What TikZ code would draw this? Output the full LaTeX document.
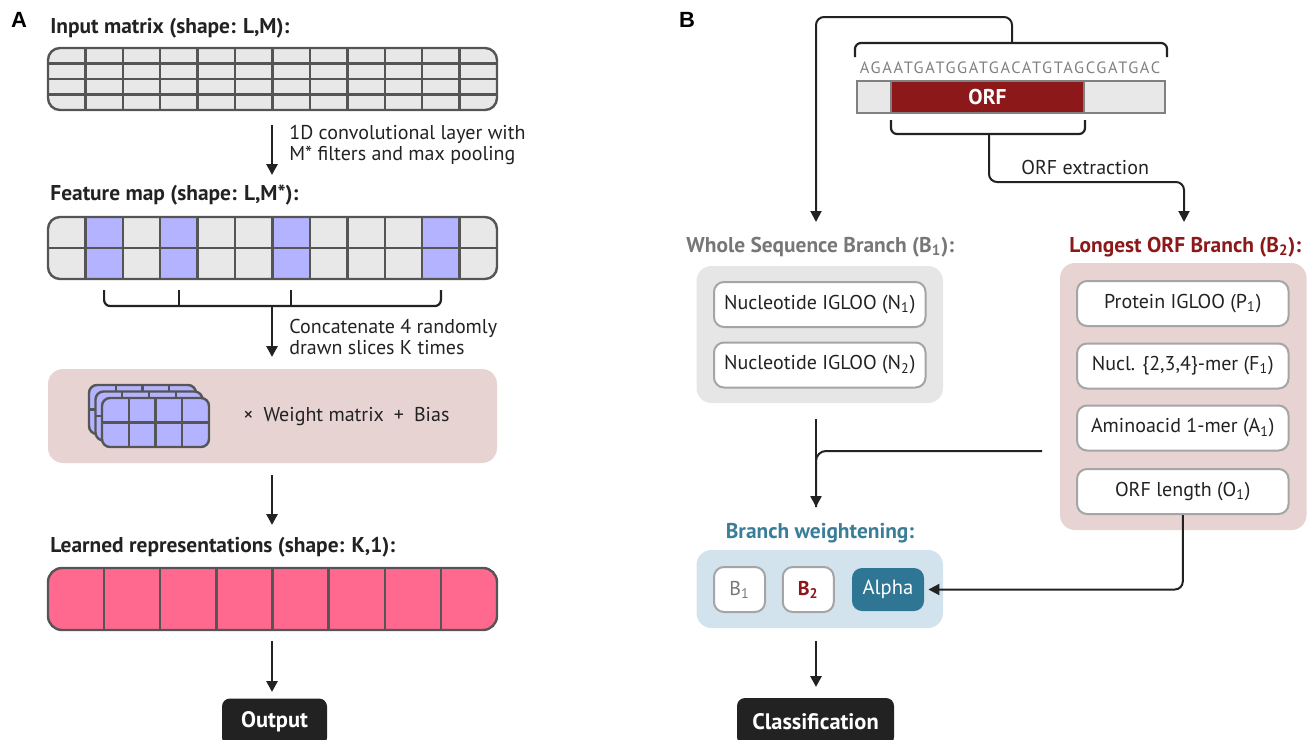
\documentclass[tikz,border=0pt]{standalone}
\usepackage{fontspec}
\setmainfont{PT Sans}
\newfontfamily\panelfont{Liberation Sans}
\usetikzlibrary{arrows.meta}

\definecolor{ink}{RGB}{34,34,34}
\definecolor{gridline}{RGB}{85,85,85}
\definecolor{cellgray}{RGB}{232,232,232}
\definecolor{lavender}{RGB}{179,179,255}
\definecolor{rosecell}{RGB}{255,105,143}
\definecolor{pinkpanel}{RGB}{230,211,210}
\definecolor{orfred}{RGB}{140,24,26}
\definecolor{wholegray}{RGB}{119,119,119}
\definecolor{seqgray}{RGB}{128,128,128}
\definecolor{wholepanel}{RGB}{230,230,230}
\definecolor{tealbox}{RGB}{47,117,148}
\definecolor{tealtext}{RGB}{58,125,153}
\definecolor{bluepanel}{RGB}{211,227,238}
\definecolor{boxedge}{RGB}{165,165,165}

\newcommand{\bodysize}{\fontsize{10}{10.5}\selectfont}
\newcommand{\titlesize}{\fontsize{10.7}{12}\selectfont\bfseries}

\begin{document}
\begin{tikzpicture}[x=0.5pt,y=0.5pt,yscale=-1,xscale=1,
    cellgrid/.style={draw=gridline, line width=1.2pt},
    flow/.style={draw=ink, line width=1.4pt, -{Triangle[length=5.5pt,width=5.5pt]}},
    feed/.style={draw=ink, line width=1pt, rounded corners=4pt, -{Triangle[length=5.5pt,width=5.5pt]}},
    link/.style={draw=ink, line width=1pt, rounded corners=5pt},
    brace/.style={draw=ink, line width=1.1pt, rounded corners=3pt},
    heading/.style={anchor=west, inner sep=0pt, font=\titlesize, text=ink},
    caption/.style={anchor=west, inner sep=0pt, align=left, font=\bodysize, text=ink},
    block/.style={draw=boxedge, line width=1pt, fill=white, rounded corners=5pt, minimum width=105.75pt, minimum height=22.5pt, inner sep=0pt, font=\bodysize, text=ink},
    chip/.style={draw=boxedge, line width=1pt, fill=white, rounded corners=5pt, minimum width=25.5pt, minimum height=22.5pt, inner sep=0pt, font=\fontsize{10}{11}\selectfont},
    terminal/.style={fill=ink, rounded corners=4pt, inner sep=0pt, minimum height=23.5pt, font=\fontsize{11.2}{12}\selectfont\bfseries, text=white},
    panel/.style={inner sep=0pt, font=\panelfont\bfseries\fontsize{11}{13}\selectfont},
  ]
\path[use as bounding box, clip] (0,0) rectangle (1311,739);

%% ---------------- A ----------------
\node[panel] (labA) at (19,20) {A};

% Text Node
\node[heading] (tin) at (50,28) {Input matrix (shape: L,M):};
%Shape: input matrix, 12 x 4
\fill[cellgray, rounded corners=6pt] (48,48) rectangle (497,110);
\foreach \i in {1,...,11}
  \draw[cellgrid] (48+\i*37.42,48) -- (48+\i*37.42,110);
\foreach \j in {1,2,3}
  \draw[cellgrid] (48,48+\j*15.5) -- (497,48+\j*15.5);
\draw[cellgrid, rounded corners=6pt] (48,48) rectangle (497,110);

%Straight Lines
\coordinate (conv-a) at (272,125);
\coordinate (conv-b) at (272,175);
\draw[flow] (conv-a) -- (conv-b);
% Text Node
\node[caption] (conv) at (289,145) {1D convolutional layer with\\M* filters and max pooling};

% Text Node
\node[heading] (tfeat) at (50,195) {Feature map (shape: L,M*):};
%Shape: feature map, 12 x 2
\fill[cellgray, rounded corners=6pt] (48,217) rectangle (497,279);
\foreach \i in {1,3,6,10}
  \fill[lavender] (48+\i*37.42,217) rectangle (85.42+\i*37.42,279);
\foreach \i in {1,...,11}
  \draw[cellgrid] (48+\i*37.42,217) -- (48+\i*37.42,279);
\draw[cellgrid] (48,248) -- (497,248);
\draw[cellgrid, rounded corners=6pt] (48,217) rectangle (497,279);

%Bracket over the drawn slices
\draw[brace] (104.1,290) -- (104.1,306) -- (440.9,306) -- (440.9,290);
\foreach \x in {178.9,291.2}
  \draw[brace] (\x,290) -- (\x,306);
\coordinate (cat-a) at (272,306);
\coordinate (cat-b) at (272,357);
\draw[flow] (cat-a) -- (cat-b);
% Text Node
\node[caption] (concat) at (289,337) {Concatenate 4 randomly\\drawn slices K times};

%Shape: dense layer
\fill[pinkpanel, rounded corners=7.5pt] (48,369) rectangle (497,463);
\foreach \ox in {89,95.5,102} {
  \pgfmathsetmacro\oy{\ox+296}
  \fill[lavender, rounded corners=4pt] (\ox,\oy) rectangle (\ox+107,\oy+49);
  \foreach \i in {1,2,3}
    \draw[cellgrid] (\ox+\i*26.75,\oy) -- (\ox+\i*26.75,\oy+49);
  \draw[cellgrid] (\ox,\oy+24.5) -- (\ox+107,\oy+24.5);
  \draw[cellgrid, rounded corners=4pt] (\ox,\oy) rectangle (\ox+107,\oy+49);
}
% Text Node
\node[caption] (wmat) at (243,417) {×\hspace{5pt}Weight matrix\hspace{5pt}+\hspace{5pt}Bias};

\coordinate (dense-a) at (272,475);
\coordinate (dense-b) at (272,525);
\draw[flow] (dense-a) -- (dense-b);

% Text Node
\node[heading] (trep) at (50,547) {Learned representations (shape: K,1):};
%Shape: learned representations, 8 x 1
\fill[rosecell, rounded corners=7pt] (48,568) rectangle (497,630);
\foreach \i in {1,...,7}
  \draw[cellgrid] (48+\i*56.125,568) -- (48+\i*56.125,630);
\draw[cellgrid, rounded corners=7pt] (48,568) rectangle (497,630);

\coordinate (rep-a) at (272,641);
\coordinate (rep-b) at (272,692);
\draw[flow] (rep-a) -- (rep-b);
\node[terminal, minimum width=52.5pt] (out) at (274.5,722) {Output};

%% ---------------- B ----------------
\node[panel] (labB) at (687,20) {B};

% sequence and its ORF
\node[inner sep=0pt, text=seqgray, font=\fontsize{8.2}{9}\selectfont\addfontfeatures{LetterSpace=10}] (seq) at (1010,68) {AGAATGATGGATGACATGTAGCGATGAC};
\fill[cellgray] (857,81) rectangle (1165,113);
\fill[orfred] (891,81) rectangle (1084,113);
\draw[seqgray, line width=1pt] (857,81) rectangle (1165,113);
\draw[seqgray, line width=1pt] (891,81) -- (891,113) (1084,81) -- (1084,113);
\node[inner sep=0pt, font=\titlesize, text=white] (orf) at (987.5,97) {ORF};

\draw[brace] (855,57) -- (855,43) -- (1167,43) -- (1167,57);
\coordinate (seqtop) at (1012,43);
\draw[brace] (891,120) -- (891,134) -- (1085,134) -- (1085,120);
\coordinate (orfbot) at (989,134);

% branch titles
\node[heading, text=wholegray] (wstitle) at (686,247) {Whole Sequence Branch (B\textsubscript{1}):};
\node[heading, text=orfred] (lotitle) at (1069,247) {Longest ORF Branch (B\textsubscript{2}):};

\coordinate (wsin) at (816,222);
\coordinate (loin) at (1184,222);
\draw[feed] (seqtop) -- ++(0,-26) -| (wsin);
\draw[feed] (orfbot) -- ++(0,48) -| (loin);
% Text Node
\node[caption] (orfx) at (1021,167) {ORF extraction};

% whole sequence branch
\fill[wholepanel, rounded corners=7.5pt] (696.5,266) rectangle (943,403);
\node[block] (n1) at (819.75,304.5) {Nucleotide IGLOO (N\textsubscript{1})};
\node[block] (n2) at (819.75,365) {Nucleotide IGLOO (N\textsubscript{2})};

% longest ORF branch
\fill[pinkpanel, rounded corners=7.5pt] (1060,263) rectangle (1306.5,530);
\node[block] (p1) at (1182.8,303.5) {Protein IGLOO (P\textsubscript{1})};
\node[block] (f1) at (1182.8,366) {Nucl. \{2,3,4\}-mer (F\textsubscript{1})};
\node[block] (a1) at (1182.8,428) {Aminoacid 1-mer (A\textsubscript{1})};
\node[block] (o1) at (1182.8,491.5) {ORF length (O\textsubscript{1})};

% merge of both branches
\coordinate (wsout) at (816,419);
\coordinate (loout) at (1042,451);
\coordinate (mergein) at (816,507);
\draw[flow, line width=1.2pt] (wsout) -- (mergein);
\draw[link] (loout) -| (mergein);

% branch weightening
\node[inner sep=0pt, font=\titlesize, text=tealtext] (bwtitle) at (820,533) {Branch weightening:};
\fill[bluepanel, rounded corners=7.5pt] (696.5,550) rectangle (943,628);
\node[chip, text=wholegray] (b1) at (739.5,589.5) {B\textsubscript{1}};
\node[chip, text=orfred, font=\fontsize{10}{11}\selectfont\bfseries] (b2) at (808.25,589.5) {B\textsubscript{2}};
\node[fill=tealbox, rounded corners=5pt, minimum width=36pt, minimum height=21.5pt, inner sep=0pt, text=white, font=\fontsize{10.3}{11}\selectfont] (alpha) at (888,589.5) {Alpha};
\draw[feed] (o1.south) |- ([xshift=2pt]alpha.east);

\coordinate (bw-a) at (816,641);
\coordinate (bw-b) at (816,687);
\draw[flow] (bw-a) -- (bw-b);
\node[terminal, minimum width=78.5pt] (cls) at (815.5,721.5) {Classification};
\end{tikzpicture}
\end{document}
